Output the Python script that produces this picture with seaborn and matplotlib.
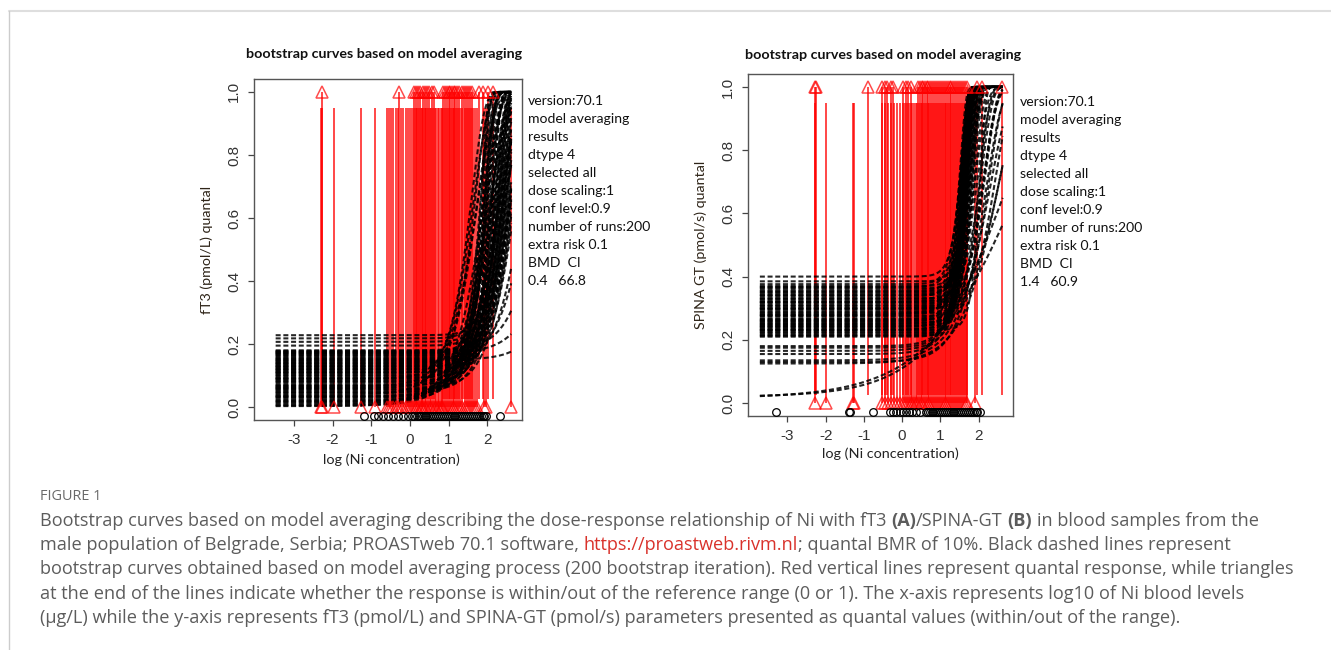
import numpy as np
import pandas as pd
import matplotlib
matplotlib.use("Agg")
import matplotlib.pyplot as plt
import seaborn as sns
from matplotlib.lines import Line2D

W, H = 1331, 650

# ---- panel A (fT3): bootstrap curves = background, log10 location, steepness ----
a_base = [0.003, 0.008, 0.012, 0.016, 0.021, 0.025, 0.030, 0.034, 0.039, 0.043,
          0.048, 0.052, 0.057, 0.061, 0.066, 0.070, 0.075, 0.079, 0.084, 0.088,
          0.093, 0.097, 0.102, 0.106, 0.111, 0.115, 0.120, 0.124, 0.129, 0.133,
          0.138, 0.142, 0.147, 0.151, 0.156, 0.160, 0.165, 0.169, 0.174, 0.178,
          0.195, 0.207, 0.218, 0.228, 0.150, 0.170, 0.180, 0.140, 0.120, 0.130,
          0.110, 0.090, 0.060,
          0.005, 0.019, 0.032, 0.046, 0.055, 0.068, 0.082, 0.091, 0.100, 0.109,
          0.118, 0.127, 0.136, 0.145, 0.154, 0.163, 0.172, 0.176, 0.064, 0.036]
a_mid = [2.20, 2.40, 2.05, 2.50, 2.30, 2.60, 2.15, 2.45, 1.75, 2.35,
         2.55, 2.10, 2.70, 2.25, 1.65, 2.40, 2.00, 2.60, 2.30, 1.90,
         2.50, 2.15, 2.75, 1.70, 2.45, 2.20, 2.60, 1.95, 2.35, 2.70,
         2.10, 2.50, 1.85, 2.30, 2.65, 2.00, 2.40, 2.15, 2.55, 1.90,
         2.25, 2.45, 2.05, 2.35, 4.20, 3.90, 3.40, 3.10, 2.95, 1.85,
         1.95, 1.60, 1.75,
         2.30, 1.90, 2.55, 2.10, 2.40, 2.65, 2.20, 2.05, 2.35, 2.60,
         1.95, 2.45, 2.25, 2.00, 2.50, 2.30, 2.15, 2.70, 2.00, 2.60]
a_slope = [1.8, 1.7, 2.0, 1.9, 2.1, 1.8, 2.3, 2.0, 2.2, 2.4,
           2.6, 2.8, 2.5, 3.0, 2.6, 2.9, 3.4, 2.7, 3.2, 3.6,
           3.0, 3.5, 2.6, 3.2, 3.3, 3.8, 3.2, 4.4, 3.6, 3.0,
           4.6, 3.4, 5.0, 4.0, 3.3, 5.4, 3.8, 4.8, 3.5, 6.0,
           4.4, 3.8, 5.2, 4.2, 2.2, 2.0, 2.3, 2.2, 2.4, 6.5,
           5.8, 3.0, 2.6,
           1.9, 2.3, 2.0, 2.6, 2.8, 2.4, 3.1, 3.4, 3.0, 2.8,
           4.2, 3.3, 3.9, 4.8, 3.6, 4.2, 5.0, 3.2, 2.9, 2.1]
# observations: response 1 (triangle at top) and response 0 (triangle at bottom)
a_one_x = [-2.27, -0.28, 0.10, 0.17, 0.22, 0.27, 0.33, 0.38, 0.44, 0.50, 0.56, 0.62,
           0.85, 0.90, 0.95, 1.00, 1.05, 1.09, 1.13, 1.18, 1.23, 1.28, 1.34, 1.40,
           1.45, 1.50, 1.55, 1.60, 1.80, 1.90, 2.02, 2.14]
a_zero_x = [-2.30, -2.26, -1.97, -1.27, -0.90, -0.60, -0.55, -0.49, -0.43, -0.36,
            -0.30, -0.24, -0.17, -0.11, -0.05, 0.01, 0.06, 0.12, 0.15, 0.19, 0.24,
            0.29, 0.31, 0.35, 0.40, 0.42, 0.47, 0.52, 0.54, 0.59, 0.64, 0.68, 0.72,
            0.76, 0.80, 0.83, 0.87, 0.92, 0.97, 1.02, 1.07, 1.11, 1.15, 1.20, 1.25,
            1.30, 1.36, 1.42, 1.48, 1.53, 1.58, 1.63, 1.68, 1.73, 1.93, 1.98, 2.61]
a_rug_x = [-1.19, -0.93, -0.82, -0.69, -0.56, -0.44, -0.31, -0.18, -0.05, 0.06,
           0.12, 0.18, 0.23, 0.28, 0.33, 0.38, 0.43, 0.48, 0.53, 0.58, 0.63, 0.68,
           0.73, 0.78, 0.83, 0.88, 0.93, 0.98, 1.03, 1.08, 1.13, 1.18, 1.23, 1.28,
           1.33, 1.38, 1.43, 1.48, 1.53, 1.58, 1.63, 1.68, 1.73, 1.78, 1.83, 1.88,
           1.93, 1.98, 2.34]
a_ylabel = "fT3 (pmol/L) quantal"
a_info = ["version:70.1", "model averaging", "results", "dtype 4", "selected all",
          "dose scaling:1", "conf level:0.9", "number of runs:200", "extra risk 0.1",
          "BMD  CI", "0.4   66.8"]

# ---- panel B (SPINA GT) ----
b_base = [0.210, 0.215, 0.220, 0.226, 0.231, 0.236, 0.242, 0.247, 0.252, 0.258,
          0.263, 0.268, 0.274, 0.279, 0.284, 0.290, 0.295, 0.300, 0.306, 0.311,
          0.316, 0.322, 0.327, 0.332, 0.338, 0.343, 0.348, 0.354, 0.359, 0.364,
          0.370, 0.376, 0.385, 0.400, 0.180, 0.175, 0.165, 0.155, 0.135, 0.130,
          0.125, 0.020, 0.015, 0.230, 0.250, 0.280, 0.300,
          0.213, 0.223, 0.233, 0.244, 0.255, 0.265, 0.276, 0.287, 0.298, 0.308,
          0.319, 0.330, 0.341, 0.352, 0.367, 0.260, 0.320, 0.240]
b_mid = [1.63, 1.78, 1.56, 1.70, 2.05, 1.60, 1.83, 1.66, 1.74, 1.53,
         1.88, 1.63, 1.71, 1.58, 1.80, 1.66, 1.93, 1.60, 1.76, 1.55,
         1.68, 1.86, 1.63, 1.73, 1.58, 1.82, 1.66, 1.53, 1.76, 1.60,
         1.70, 1.56, 1.65, 1.58, 1.90, 1.75, 2.10, 1.95, 2.30, 2.20,
         2.50, 2.60, 2.90, 2.45, 2.30, 2.60, 2.20,
         1.68, 1.60, 1.75, 1.57, 1.72, 1.65, 1.85, 1.62, 1.70, 1.58,
         1.80, 1.67, 1.62, 1.74, 1.64, 2.05, 2.10, 2.15]
b_slope = [6.0, 5.0, 7.0, 5.5, 7.0, 6.5, 4.8, 8.0, 5.8, 6.0,
           5.0, 7.5, 6.2, 5.2, 6.8, 5.6, 4.6, 8.5, 6.0, 6.6,
           7.2, 5.4, 5.8, 7.8, 6.2, 5.2, 6.8, 7.0, 5.6, 9.0,
           6.4, 5.8, 7.0, 6.0, 3.0, 3.5, 2.6, 2.8, 2.0, 2.4,
           1.8, 0.9, 0.75, 2.6, 3.0, 2.2, 3.4,
           6.5, 7.5, 5.5, 6.0, 7.0, 5.0, 6.2, 8.0, 5.6, 7.2,
           5.8, 6.6, 7.4, 6.0, 5.2, 4.0, 3.6, 3.2]
b_one_x = [-2.27, -2.25, -0.89, -0.53, -0.46, -0.39, -0.30, -0.25, 0.02, 0.09, 0.16,
           0.24, 0.41, 0.46, 0.51, 0.55, 0.60, 0.64, 0.69, 0.74, 0.79, 0.84, 0.89,
           0.94, 0.99, 1.04, 1.09, 1.14, 1.19, 1.24, 1.29, 1.34, 1.39, 1.44, 1.49,
           1.54, 1.59, 1.64, 1.69, 1.95, 2.10, 2.62]
b_zero_x = [-2.27, -1.98, -1.28, -1.27, -0.53, -0.44, -0.36, -0.29, -0.21, -0.14,
            -0.06, 0.02, 0.08, 0.13, 0.18, 0.22, 0.27, 0.32, 0.36, 0.40, 0.44, 0.49,
            0.53, 0.58, 0.62, 0.67, 0.71, 0.76, 0.81, 0.86, 0.91, 0.96, 1.01, 1.06,
            1.11, 1.16, 1.21, 1.26, 1.31, 1.36, 1.41, 1.46, 1.51, 1.56, 1.61, 1.66,
            1.71, 1.90]
b_rug_x = [-3.31, -1.40, -1.37, -0.76, -0.32, -0.24, -0.15, -0.06, 0.03, 0.10,
           0.19, 0.27, 0.36, 0.46, 0.62, 0.67, 0.72, 0.77, 0.82, 0.87, 0.92, 0.97,
           1.02, 1.07, 1.12, 1.17, 1.22, 1.27, 1.32, 1.37, 1.42, 1.47, 1.52, 1.57,
           1.62, 1.67, 1.72, 1.77, 1.82, 1.87, 1.92, 1.97, 2.03]
b_ylabel = "SPINA GT (pmol/s) quantal"
b_info = ["version:70.1", "model averaging", "results", "dtype 4", "selected all",
          "dose scaling:1", "conf level:0.9", "number of runs:200", "extra risk 0.1",
          "BMD  CI", "1.4   60.9"]

x_ticks = [-3, -2, -1, 0, 1, 2]
y_ticks = [0.0, 0.2, 0.4, 0.6, 0.8, 1.0]
panel_title = "bootstrap curves based on model averaging"
x_label = "log (Ni concentration)"

caption_head = "FIGURE 1"
grey = "#5c5c5c"
link_red = "#d9322b"
caption_lines = [
    [("Bootstrap curves based on model averaging describing the dose-response relationship of Ni with fT3", "normal", grey, 0),
     ("(A)", "bold", grey, 1), ("/SPINA-GT", "normal", grey, 0), ("(B)", "bold", grey, 1),
     ("in blood samples from the", "normal", grey, 1)],
    [("male population of Belgrade, Serbia; PROASTweb 70.1 software,", "normal", grey, 0),
     ("https://proastweb.rivm.nl", "normal", link_red, 1),
     ("; quantal BMR of 10%. Black dashed lines represent", "normal", grey, 0)],
    [("bootstrap curves obtained based on model averaging process (200 bootstrap iteration). Red vertical lines represent quantal response, while triangles", "normal", grey, 0)],
    [("at the end of the lines indicate whether the response is within/out of the reference range (0 or 1). The x-axis represents log10 of Ni blood levels", "normal", grey, 0)],
    [("(μg/L) while the y-axis represents fT3 (pmol/L) and SPINA-GT (pmol/s) parameters presented as quantal values (within/out of the range).", "normal", grey, 0)],
]


def curve_table(base, mid, slope, x_from, x_to):
    xs = np.linspace(x_from, x_to, 260)
    parts = []
    for run, (a, m, c) in enumerate(zip(base, mid, slope)):
        y = a + (1 - a) * (1 - np.exp(-np.exp(c * (xs - m))))
        parts.append(pd.DataFrame({"logdose": xs, "quantal": y, "run": run}))
    return pd.concat(parts, ignore_index=True)


def draw_panel(ax, curves, one_x, zero_x, rug_x):
    red = "#ff0000"
    ax.vlines(zero_x, 0.0, 0.95, colors=red, alpha=0.72, lw=1.4, zorder=1)
    ax.vlines(one_x, 0.025, 1.0, colors=red, alpha=0.72, lw=1.4, zorder=1)
    sns.lineplot(data=curves, x="logdose", y="quantal", units="run", estimator=None,
                 sort=False, color="black", lw=1.5, alpha=0.85,
                 linestyle=(0, (2.4, 1.3)), legend=False, ax=ax, zorder=2)
    ax.plot(one_x, np.ones(len(one_x)), ls="none", marker="^", ms=8, mfc="none",
            mec=red, mew=1.1, alpha=0.7, zorder=3)
    ax.plot(zero_x, np.zeros(len(zero_x)), ls="none", marker="^", ms=8, mfc="none",
            mec=red, mew=1.1, alpha=0.7, zorder=3)
    ax.plot(rug_x, np.full(len(rug_x), -0.028), ls="none", marker="o", ms=5.5,
            mfc="none", mec="black", mew=0.9, zorder=3)
    ax.set_xlim(-4.03, 2.9)
    ax.set_ylim(-0.041, 1.041)
    ax.set_xticks(x_ticks)
    ax.set_xticklabels([str(t) for t in x_ticks], family="Liberation Sans")
    ax.set_yticks(y_ticks)
    ax.set_yticklabels([f"{t:.1f}" for t in y_ticks], rotation=90, va="center",
                       family="Liberation Sans")
    ax.tick_params(direction="out", length=4.3, width=0.9, color="#444",
                   labelsize=11, labelcolor="#333", pad=5)
    for s in ax.spines.values():
        s.set_visible(True)
        s.set_color("#555")
        s.set_linewidth(1.0)
    ax.set_xlabel("")
    ax.set_ylabel("")


def px(x, y):
    return x / W, 1 - y / H


def put_runs(fig, x_px, y_px, runs, size, family):
    renderer = fig.canvas.get_renderer()
    space = {}
    for w in ("normal", "bold"):
        t1 = fig.text(0, 0, "n n", fontsize=size, family=family, weight=w)
        t2 = fig.text(0, 0, "nn", fontsize=size, family=family, weight=w)
        space[w] = t1.get_window_extent(renderer).width - t2.get_window_extent(renderer).width
        t1.remove()
        t2.remove()
    x = x_px
    for text, weight, color, gap in runs:
        x += gap * space[weight]
        t = fig.text(*px(x, y_px), text, fontsize=size, family=family, weight=weight,
                     color=color, ha="left", va="center")
        x += t.get_window_extent(renderer).width


sns.set_theme(style="ticks")
plt.rcParams["font.family"] = ["Lato", "DejaVu Sans"]

fig = plt.figure(figsize=(W / 100, H / 100), dpi=100)
ax_a = fig.add_axes([254 / W, 1 - 420 / H, 268 / W, 341 / H])
ax_b = fig.add_axes([748 / W, 1 - 416 / H, 265 / W, 342 / H])

draw_panel(ax_a, curve_table(a_base, a_mid, a_slope, -3.47, 2.62), a_one_x, a_zero_x, a_rug_x)
draw_panel(ax_b, curve_table(b_base, b_mid, b_slope, -3.72, 2.63), b_one_x, b_zero_x, b_rug_x)

# titles, axis labels and PROAST info block
fig.text(*px(384, 54), panel_title, fontsize=10.3, weight="bold", ha="center", va="center", color="#111")
fig.text(*px(883, 55), panel_title, fontsize=10.3, weight="bold", ha="center", va="center", color="#111")
fig.text(*px(391, 460), x_label, fontsize=10.4, ha="center", va="center", color="#222")
fig.text(*px(890, 454), x_label, fontsize=10.4, ha="center", va="center", color="#222")
fig.text(*px(207, 250), a_ylabel, fontsize=10.3, rotation=90, ha="center", va="center", color="#2e2418")
fig.text(*px(701, 245), b_ylabel, fontsize=10.3, rotation=90, ha="center", va="center", color="#2e2418")
for i, line in enumerate(a_info):
    fig.text(*px(528, 101 + 18 * i), line, fontsize=10.1, ha="left", va="center", color="#111")
for i, line in enumerate(b_info):
    fig.text(*px(1020, 102 + 18 * i), line, fontsize=10.1, ha="left", va="center", color="#111")

# page frame
fig.add_artist(Line2D([9 / W, 1], [1 - 11 / H, 1 - 11 / H], color="#dedede", lw=1.5,
                      transform=fig.transFigure))
fig.add_artist(Line2D([9 / W, 9 / W], [1 - 11 / H, 0], color="#cccccc", lw=1.0,
                      transform=fig.transFigure))

# caption
cap_font = ["Open Sans", "DejaVu Sans"]
renderer = fig.canvas.get_renderer()
probe = fig.text(0, 0, caption_lines[2][0][0], fontsize=10, family=cap_font)
cap_size = 10 * 1257 / probe.get_window_extent(renderer).width
probe.remove()
fig.text(*px(40, 497), caption_head, fontsize=cap_size * 0.8, family=cap_font,
         color="#6a6a6a", ha="left", va="center")
for i, runs in enumerate(caption_lines):
    put_runs(fig, 40, 521 + 24.2 * i, runs, cap_size, cap_font)

fig.savefig("out.png", dpi=100)
plt.close(fig)
